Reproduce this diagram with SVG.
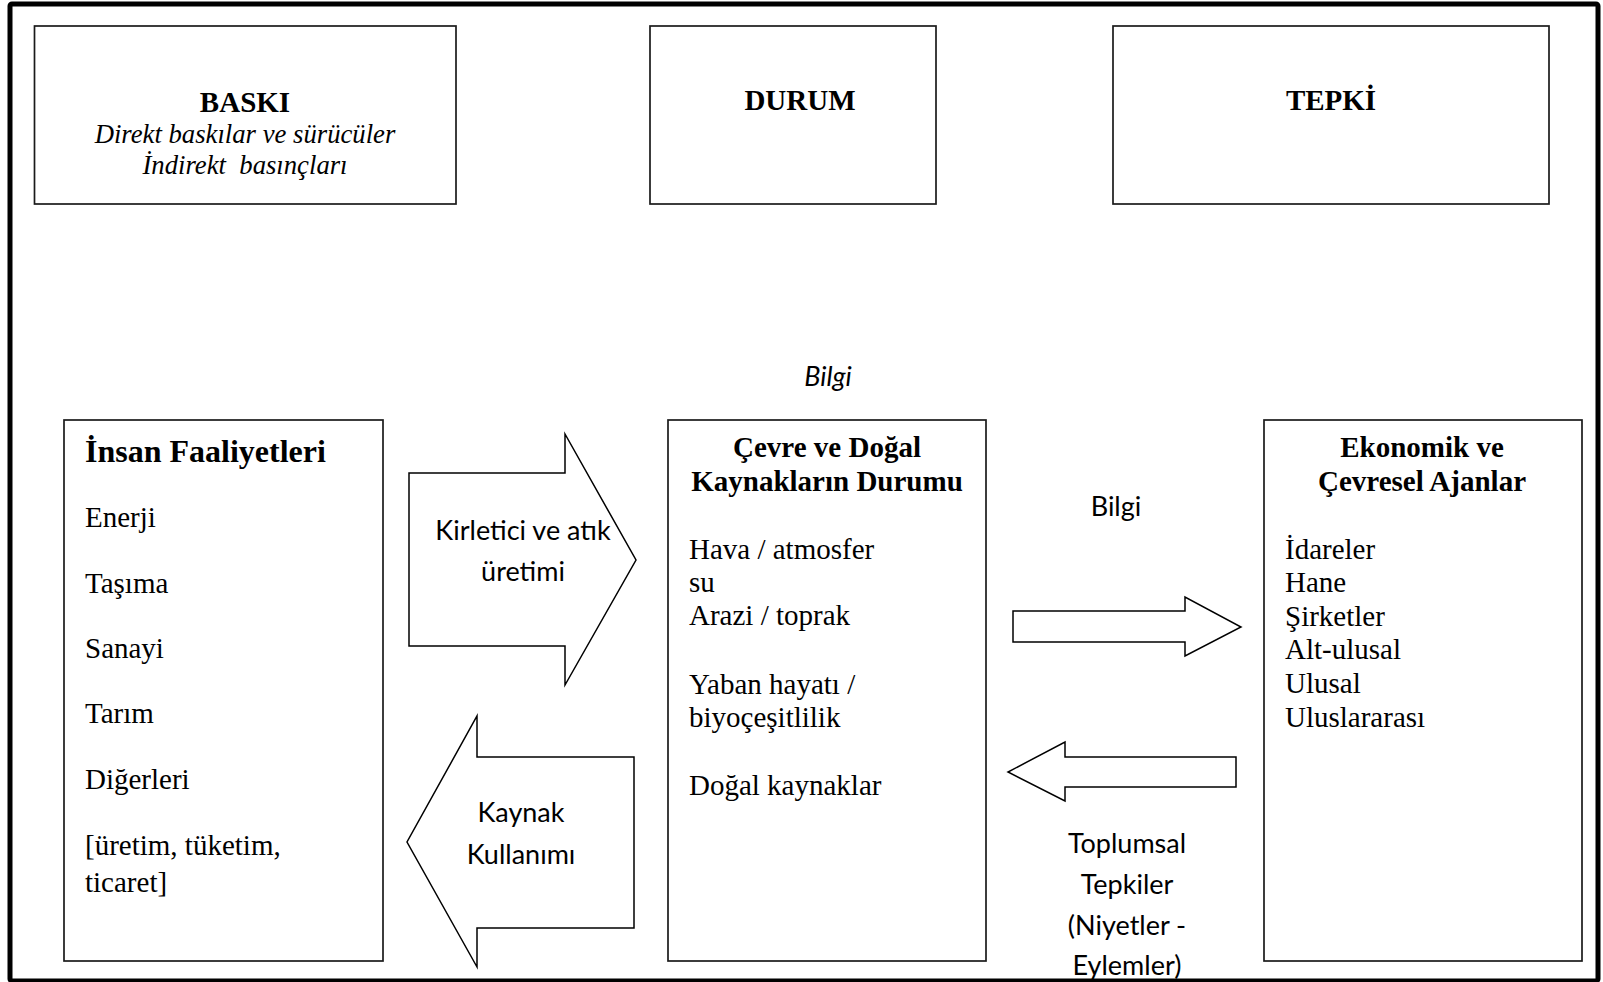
<svg xmlns="http://www.w3.org/2000/svg" width="1603" height="982" viewBox="0 0 1603 982">
<style>
.box{fill:#fff;stroke:#1a1a1a;stroke-width:1.7}
.arr{fill:#fff;stroke:#000;stroke-width:1.5;stroke-linejoin:miter}
.hb{font-family:"Liberation Serif","Times New Roman",serif;font-weight:bold;font-size:29px;fill:#000}
.hb.big{font-size:32px}
.hi{font-family:"Liberation Serif","Times New Roman",serif;font-style:italic;font-size:26.7px;fill:#000}
.tr{font-family:"Liberation Serif","Times New Roman",serif;font-size:29px;fill:#000}
.cal{font-family:Lato,"Open Sans",sans-serif;font-size:27px;fill:#000}
.it{font-style:italic}
</style>
<rect width="1603" height="982" fill="#fff"/>

<g id="baski">
<rect class="box" x="34.5" y="26" width="421.5" height="178"/>
<text class="hb" x="245" y="112" text-anchor="middle">BASKI</text>
<text class="hi" x="245" y="143" text-anchor="middle">Direkt baskılar ve sürücüler</text>
<text class="hi" x="245" y="174" text-anchor="middle" xml:space="preserve">İndirekt  basınçları</text>
</g>
<g id="durum">
<rect class="box" x="650" y="26" width="286" height="178"/>
<text class="hb" x="800" y="110" text-anchor="middle">DURUM</text>
</g>
<g id="tepki">
<rect class="box" x="1113" y="26" width="436" height="178"/>
<text class="hb" x="1331" y="110" text-anchor="middle">TEPKİ</text>
</g>

<g id="bilgi-top">
<text class="cal it" x="828" y="386" text-anchor="middle">Bilgi</text>
</g>

<g id="insan">
<rect class="box" x="64" y="420" width="319" height="541"/>
<text class="hb big" x="85" y="462">İnsan Faaliyetleri</text>
<text class="tr" x="85" y="527">Enerji</text>
<text class="tr" x="85" y="593">Taşıma</text>
<text class="tr" x="85" y="658">Sanayi</text>
<text class="tr" x="85" y="723">Tarım</text>
<text class="tr" x="85" y="789">Diğerleri</text>
<text class="tr" x="85" y="855">[üretim, tüketim,</text>
<text class="tr" x="85" y="892">ticaret]</text>
</g>

<g id="cevre">
<rect class="box" x="668" y="420" width="318" height="541"/>
<text class="hb" x="827" y="457" text-anchor="middle">Çevre ve Doğal</text>
<text class="hb" x="827" y="491" text-anchor="middle">Kaynakların Durumu</text>
<text class="tr" x="689" y="559">Hava / atmosfer</text>
<text class="tr" x="689" y="592">su</text>
<text class="tr" x="689" y="625">Arazi / toprak</text>
<text class="tr" x="689" y="694">Yaban hayatı /</text>
<text class="tr" x="689" y="727">biyoçeşitlilik</text>
<text class="tr" x="689" y="795">Doğal kaynaklar</text>
</g>

<g id="ekonomik">
<rect class="box" x="1264" y="420" width="318" height="541"/>
<text class="hb" x="1422" y="457" text-anchor="middle">Ekonomik ve</text>
<text class="hb" x="1422" y="491" text-anchor="middle">Çevresel Ajanlar</text>
<text class="tr" x="1285" y="559">İdareler</text>
<text class="tr" x="1285" y="592">Hane</text>
<text class="tr" x="1285" y="626">Şirketler</text>
<text class="tr" x="1285" y="659">Alt-ulusal</text>
<text class="tr" x="1285" y="693">Ulusal</text>
<text class="tr" x="1285" y="727">Uluslararası</text>
</g>

<g id="connectors">
<g id="arrow-kirletici">
<polygon class="arr" points="409,473 565,473 565,434 636,560 565,685 565,646 409,646"/>
<text class="cal" x="523" y="540" text-anchor="middle">Kirletici ve atık</text>
<text class="cal" x="523" y="581" text-anchor="middle">üretimi</text>
</g>
<g id="arrow-kaynak">
<polygon class="arr" points="634,757 477,757 477,716 407,842 477,967 477,928 634,928"/>
<text class="cal" x="521" y="822" text-anchor="middle">Kaynak</text>
<text class="cal" x="521" y="864" text-anchor="middle">Kullanımı</text>
</g>
<g id="arrow-bilgi">
<polygon class="arr" points="1013,611 1185,611 1185,597 1241,627 1185,656 1185,642 1013,642"/>
<text class="cal" x="1116" y="516" text-anchor="middle">Bilgi</text>
</g>
<g id="arrow-tepkiler">
<polygon class="arr" points="1236,757 1065,757 1065,742 1008,772 1065,801 1065,787 1236,787"/>
<text class="cal" x="1127" y="853" text-anchor="middle">Toplumsal</text>
<text class="cal" x="1127" y="894" text-anchor="middle">Tepkiler</text>
<text class="cal" x="1127" y="935" text-anchor="middle">(Niyetler -</text>
<text class="cal" x="1127" y="975" text-anchor="middle">Eylemler)</text>
</g>
</g>

<rect id="frame" x="10" y="4" width="1588" height="977" rx="2" fill="none" stroke="#000" stroke-width="5"/>
</svg>
